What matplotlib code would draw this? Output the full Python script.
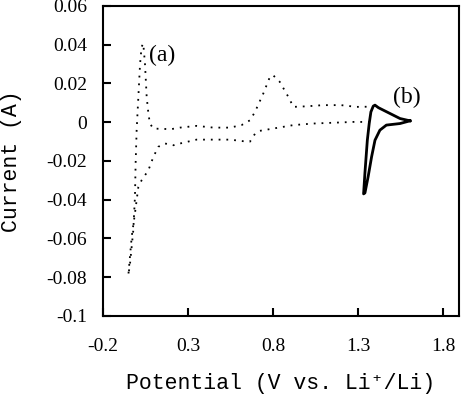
import matplotlib
matplotlib.use("Agg")
from matplotlib import pyplot as plt

# curve (a): dotted CV, cathodic scan from 1.37 V down, then anodic back up
a_x = [1.37, 1.29, 1.15, 1.035, 0.92, 0.80, 0.72, 0.694, 0.665, 0.624, 0.547,
       0.45, 0.35, 0.253, 0.215, 0.165, 0.125, 0.096, 0.067, 0.027, 0.008,
       -0.012, -0.031, -0.051,
       -0.041, -0.022, -0.012, -0.008, -0.002, 0.008, 0.018, 0.027, 0.037,
       0.047, 0.057, 0.067, 0.076, 0.096, 0.2, 0.253, 0.35, 0.45, 0.547,
       0.615, 0.665, 0.694, 0.743, 0.782, 0.80, 0.84, 0.89, 0.92, 1.0,
       1.094, 1.2, 1.29, 1.37]
a_y = [0.0, 0.0002, -0.0003, -0.0007, -0.0015, -0.0033, -0.0045, -0.006,
       -0.010, -0.0098, -0.009, -0.009, -0.009, -0.011, -0.0119, -0.011,
       -0.0127, -0.018, -0.0248, -0.030, -0.0334, -0.047, -0.059, -0.079,
       -0.073, -0.056, -0.0385, -0.021, -0.004, 0.013, 0.030, 0.0389, 0.0406,
       0.030, 0.013, 0.0045, -0.0007, -0.0033, -0.0036, -0.0028, -0.0019,
       -0.0028, -0.0028, -0.0015, 0.001, 0.0053, 0.0148, 0.0234, 0.0243,
       0.0208, 0.0131, 0.0079, 0.0082, 0.0088, 0.0088, 0.0079, 0.0080]

# curve (b): solid CV
b_x = [1.606, 1.547, 1.467, 1.429, 1.40, 1.38, 1.36, 1.341, 1.333,
       1.341, 1.355, 1.366, 1.376, 1.39, 1.40, 1.42, 1.488, 1.547, 1.606]
b_y = [0.0007, -0.0007, -0.0015, -0.0041, -0.0093, -0.0179, -0.028, -0.0365,
       -0.037, -0.026, -0.0093, -0.0007, 0.0053, 0.0083, 0.0088, 0.0075,
       0.0045, 0.0019, 0.0007]

x_ticks = [-0.2, 0.3, 0.8, 1.3, 1.8]
y_ticks = [-0.1, -0.08, -0.06, -0.04, -0.02, 0, 0.02, 0.04, 0.06]
y_tick_labels = ["-0.1", "-0.08", "-0.06", "-0.04", "-0.02", "0", "0.02", "0.04", "0.06"]

fig = plt.figure(figsize=(4.65, 3.94), dpi=100)
ax = fig.add_axes([0.2215, 0.198, 0.7655, 0.787])

ax.plot(a_x, a_y, color="black", linewidth=1.3, linestyle=(0, (1, 3.3)))
ax.plot(b_x, b_y, color="black", linewidth=2.0, solid_joinstyle="round")

ax.set_xlim(-0.2, 1.894)
ax.set_ylim(-0.1, 0.06)
ax.set_xticks(x_ticks)
ax.set_xticklabels([str(t) for t in x_ticks])
ax.set_yticks(y_ticks)
ax.set_yticklabels(y_tick_labels)

for s in ax.spines.values():
    s.set_linewidth(1.5)
ax.tick_params(direction="in", length=6, width=1.5, top=False, right=False,
               labelsize=14)
ax.tick_params(axis="y", pad=11.5)
ax.tick_params(axis="x", pad=16)
for lab in ax.get_xticklabels() + ax.get_yticklabels():
    lab.set_family("Liberation Serif")

ax.text(0.07, 0.0346, "(a)", fontsize=17, family="Liberation Serif",
        ha="left", va="center")
ax.text(1.506, 0.0129, "(b)", fontsize=17, family="Liberation Serif",
        ha="left", va="center")

mono = ["Liberation Mono", "DejaVu Sans Mono"]
ax.set_xlabel("Potential (V vs. Li\u207a/Li)", fontsize=15.5, family=mono)
ax.set_ylabel("Current (A)", fontsize=15.5, family=mono)
ax.xaxis.label.set_va("center")
ax.yaxis.label.set_va("center")
ax.xaxis.set_label_coords(0.5, -0.219)
ax.yaxis.set_label_coords(-0.256, 0.5)

fig.savefig("out.png", dpi=100)
